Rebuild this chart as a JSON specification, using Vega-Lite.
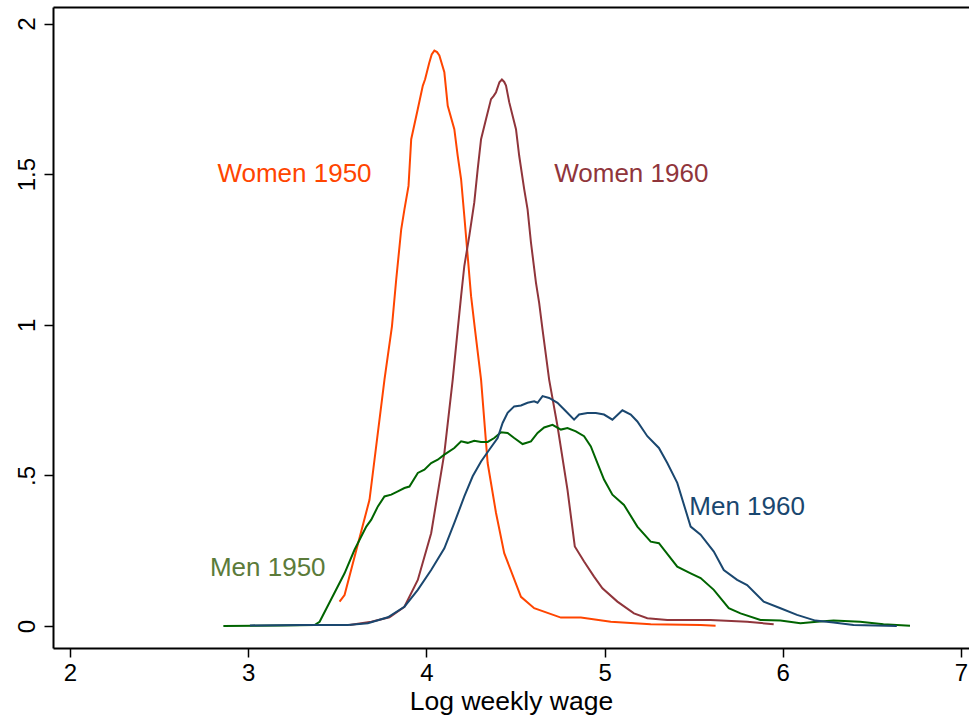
{
  "$schema": "https://vega.github.io/schema/vega-lite/v6.json",
  "width": 916,
  "height": 641,
  "autosize": {"type": "none"},
  "padding": {"left": 53, "top": 7, "right": 0, "bottom": 71},
  "background": "white",
  "config": {
    "view": {"stroke": null},
    "font": "Liberation Sans",
    "axis": {
      "grid": false,
      "domainColor": "black",
      "domainWidth": 2,
      "tickColor": "black",
      "tickWidth": 1.5,
      "tickSize": 9,
      "labelFont": "Liberation Sans",
      "labelFontSize": 24,
      "labelColor": "black",
      "titleFont": "Liberation Sans",
      "titleFontSize": 26,
      "titleFontWeight": "normal",
      "titleColor": "black"
    }
  },
  "datasets": {
    "curves": [
      {"series": "Women 1950", "x": 3.513, "y": 0.081},
      {"series": "Women 1950", "x": 3.541, "y": 0.103},
      {"series": "Women 1950", "x": 3.681, "y": 0.419},
      {"series": "Women 1950", "x": 3.765, "y": 0.818},
      {"series": "Women 1950", "x": 3.807, "y": 0.995},
      {"series": "Women 1950", "x": 3.831, "y": 1.151},
      {"series": "Women 1950", "x": 3.859, "y": 1.317},
      {"series": "Women 1950", "x": 3.877, "y": 1.383},
      {"series": "Women 1950", "x": 3.9, "y": 1.461},
      {"series": "Women 1950", "x": 3.915, "y": 1.616},
      {"series": "Women 1950", "x": 3.952, "y": 1.716},
      {"series": "Women 1950", "x": 3.98, "y": 1.793},
      {"series": "Women 1950", "x": 3.993, "y": 1.815},
      {"series": "Women 1950", "x": 4.016, "y": 1.869},
      {"series": "Women 1950", "x": 4.03, "y": 1.897},
      {"series": "Women 1950", "x": 4.045, "y": 1.91},
      {"series": "Women 1950", "x": 4.06, "y": 1.905},
      {"series": "Women 1950", "x": 4.073, "y": 1.894},
      {"series": "Women 1950", "x": 4.101, "y": 1.838},
      {"series": "Women 1950", "x": 4.12, "y": 1.727},
      {"series": "Women 1950", "x": 4.157, "y": 1.649},
      {"series": "Women 1950", "x": 4.176, "y": 1.561},
      {"series": "Women 1950", "x": 4.195, "y": 1.483},
      {"series": "Women 1950", "x": 4.213, "y": 1.361},
      {"series": "Women 1950", "x": 4.232, "y": 1.228},
      {"series": "Women 1950", "x": 4.251, "y": 1.095},
      {"series": "Women 1950", "x": 4.273, "y": 0.984},
      {"series": "Women 1950", "x": 4.307, "y": 0.818},
      {"series": "Women 1950", "x": 4.344, "y": 0.541},
      {"series": "Women 1950", "x": 4.391, "y": 0.375},
      {"series": "Women 1950", "x": 4.437, "y": 0.242},
      {"series": "Women 1950", "x": 4.531, "y": 0.097},
      {"series": "Women 1950", "x": 4.605, "y": 0.059},
      {"series": "Women 1950", "x": 4.755, "y": 0.028},
      {"series": "Women 1950", "x": 4.867, "y": 0.028},
      {"series": "Women 1950", "x": 5.035, "y": 0.014},
      {"series": "Women 1950", "x": 5.259, "y": 0.006},
      {"series": "Women 1950", "x": 5.539, "y": 0.003},
      {"series": "Women 1950", "x": 5.623, "y": 0.001},

      {"series": "Women 1960", "x": 3.569, "y": 0.003},
      {"series": "Women 1960", "x": 3.691, "y": 0.014},
      {"series": "Women 1960", "x": 3.793, "y": 0.029},
      {"series": "Women 1960", "x": 3.877, "y": 0.064},
      {"series": "Women 1960", "x": 3.952, "y": 0.153},
      {"series": "Women 1960", "x": 4.027, "y": 0.308},
      {"series": "Women 1960", "x": 4.101, "y": 0.574},
      {"series": "Women 1960", "x": 4.148, "y": 0.818},
      {"series": "Women 1960", "x": 4.176, "y": 0.984},
      {"series": "Women 1960", "x": 4.195, "y": 1.095},
      {"series": "Women 1960", "x": 4.213, "y": 1.195},
      {"series": "Women 1960", "x": 4.241, "y": 1.295},
      {"series": "Women 1960", "x": 4.269, "y": 1.406},
      {"series": "Women 1960", "x": 4.288, "y": 1.516},
      {"series": "Women 1960", "x": 4.307, "y": 1.616},
      {"series": "Women 1960", "x": 4.335, "y": 1.683},
      {"series": "Women 1960", "x": 4.363, "y": 1.749},
      {"series": "Women 1960", "x": 4.378, "y": 1.76},
      {"series": "Women 1960", "x": 4.391, "y": 1.772},
      {"series": "Women 1960", "x": 4.41, "y": 1.805},
      {"series": "Women 1960", "x": 4.424, "y": 1.814},
      {"series": "Women 1960", "x": 4.437, "y": 1.806},
      {"series": "Women 1960", "x": 4.447, "y": 1.794},
      {"series": "Women 1960", "x": 4.465, "y": 1.739},
      {"series": "Women 1960", "x": 4.484, "y": 1.694},
      {"series": "Women 1960", "x": 4.503, "y": 1.649},
      {"series": "Women 1960", "x": 4.521, "y": 1.561},
      {"series": "Women 1960", "x": 4.549, "y": 1.45},
      {"series": "Women 1960", "x": 4.568, "y": 1.383},
      {"series": "Women 1960", "x": 4.587, "y": 1.273},
      {"series": "Women 1960", "x": 4.615, "y": 1.14},
      {"series": "Women 1960", "x": 4.633, "y": 1.073},
      {"series": "Women 1960", "x": 4.652, "y": 0.984},
      {"series": "Women 1960", "x": 4.689, "y": 0.818},
      {"series": "Women 1960", "x": 4.736, "y": 0.663},
      {"series": "Women 1960", "x": 4.792, "y": 0.452},
      {"series": "Women 1960", "x": 4.833, "y": 0.264},
      {"series": "Women 1960", "x": 4.885, "y": 0.214},
      {"series": "Women 1960", "x": 4.941, "y": 0.164},
      {"series": "Women 1960", "x": 4.988, "y": 0.125},
      {"series": "Women 1960", "x": 5.072, "y": 0.081},
      {"series": "Women 1960", "x": 5.165, "y": 0.042},
      {"series": "Women 1960", "x": 5.24, "y": 0.026},
      {"series": "Women 1960", "x": 5.352, "y": 0.02},
      {"series": "Women 1960", "x": 5.594, "y": 0.02},
      {"series": "Women 1960", "x": 5.8, "y": 0.014},
      {"series": "Women 1960", "x": 5.949, "y": 0.006},

      {"series": "Men 1950", "x": 2.861, "y": 0.0},
      {"series": "Men 1950", "x": 3.187, "y": 0.002},
      {"series": "Men 1950", "x": 3.373, "y": 0.003},
      {"series": "Men 1950", "x": 3.401, "y": 0.014},
      {"series": "Men 1950", "x": 3.541, "y": 0.175},
      {"series": "Men 1950", "x": 3.597, "y": 0.253},
      {"series": "Men 1950", "x": 3.663, "y": 0.33},
      {"series": "Men 1950", "x": 3.691, "y": 0.353},
      {"series": "Men 1950", "x": 3.728, "y": 0.397},
      {"series": "Men 1950", "x": 3.765, "y": 0.43},
      {"series": "Men 1950", "x": 3.803, "y": 0.436},
      {"series": "Men 1950", "x": 3.84, "y": 0.447},
      {"series": "Men 1950", "x": 3.877, "y": 0.458},
      {"series": "Men 1950", "x": 3.905, "y": 0.463},
      {"series": "Men 1950", "x": 3.952, "y": 0.508},
      {"series": "Men 1950", "x": 3.989, "y": 0.519},
      {"series": "Men 1950", "x": 4.027, "y": 0.541},
      {"series": "Men 1950", "x": 4.064, "y": 0.552},
      {"series": "Men 1950", "x": 4.101, "y": 0.569},
      {"series": "Men 1950", "x": 4.157, "y": 0.591},
      {"series": "Men 1950", "x": 4.195, "y": 0.613},
      {"series": "Men 1950", "x": 4.232, "y": 0.608},
      {"series": "Men 1950", "x": 4.269, "y": 0.615},
      {"series": "Men 1950", "x": 4.307, "y": 0.611},
      {"series": "Men 1950", "x": 4.344, "y": 0.611},
      {"series": "Men 1950", "x": 4.381, "y": 0.624},
      {"series": "Men 1950", "x": 4.419, "y": 0.643},
      {"series": "Men 1950", "x": 4.456, "y": 0.641},
      {"series": "Men 1950", "x": 4.493, "y": 0.624},
      {"series": "Men 1950", "x": 4.54, "y": 0.604},
      {"series": "Men 1950", "x": 4.587, "y": 0.613},
      {"series": "Men 1950", "x": 4.624, "y": 0.641},
      {"series": "Men 1950", "x": 4.661, "y": 0.659},
      {"series": "Men 1950", "x": 4.708, "y": 0.668},
      {"series": "Men 1950", "x": 4.755, "y": 0.652},
      {"series": "Men 1950", "x": 4.792, "y": 0.657},
      {"series": "Men 1950", "x": 4.839, "y": 0.646},
      {"series": "Men 1950", "x": 4.885, "y": 0.63},
      {"series": "Men 1950", "x": 4.923, "y": 0.596},
      {"series": "Men 1950", "x": 4.96, "y": 0.541},
      {"series": "Men 1950", "x": 4.997, "y": 0.486},
      {"series": "Men 1950", "x": 5.044, "y": 0.436},
      {"series": "Men 1950", "x": 5.109, "y": 0.402},
      {"series": "Men 1950", "x": 5.184, "y": 0.33},
      {"series": "Men 1950", "x": 5.259, "y": 0.28},
      {"series": "Men 1950", "x": 5.305, "y": 0.275},
      {"series": "Men 1950", "x": 5.408, "y": 0.197},
      {"series": "Men 1950", "x": 5.483, "y": 0.175},
      {"series": "Men 1950", "x": 5.539, "y": 0.159},
      {"series": "Men 1950", "x": 5.613, "y": 0.12},
      {"series": "Men 1950", "x": 5.697, "y": 0.059},
      {"series": "Men 1950", "x": 5.763, "y": 0.042},
      {"series": "Men 1950", "x": 5.875, "y": 0.02},
      {"series": "Men 1950", "x": 5.987, "y": 0.018},
      {"series": "Men 1950", "x": 6.099, "y": 0.009},
      {"series": "Men 1950", "x": 6.192, "y": 0.014},
      {"series": "Men 1950", "x": 6.285, "y": 0.018},
      {"series": "Men 1950", "x": 6.434, "y": 0.014},
      {"series": "Men 1950", "x": 6.565, "y": 0.006},
      {"series": "Men 1950", "x": 6.714, "y": 0.001},

      {"series": "Men 1960", "x": 3.01, "y": 0.002},
      {"series": "Men 1960", "x": 3.299, "y": 0.003},
      {"series": "Men 1960", "x": 3.56, "y": 0.003},
      {"series": "Men 1960", "x": 3.672, "y": 0.009},
      {"series": "Men 1960", "x": 3.784, "y": 0.029},
      {"series": "Men 1960", "x": 3.877, "y": 0.064},
      {"series": "Men 1960", "x": 3.952, "y": 0.12},
      {"series": "Men 1960", "x": 4.027, "y": 0.186},
      {"series": "Men 1960", "x": 4.101, "y": 0.258},
      {"series": "Men 1960", "x": 4.157, "y": 0.342},
      {"series": "Men 1960", "x": 4.213, "y": 0.43},
      {"series": "Men 1960", "x": 4.26, "y": 0.497},
      {"series": "Men 1960", "x": 4.307, "y": 0.546},
      {"series": "Men 1960", "x": 4.353, "y": 0.585},
      {"series": "Men 1960", "x": 4.4, "y": 0.624},
      {"series": "Men 1960", "x": 4.428, "y": 0.674},
      {"series": "Men 1960", "x": 4.456, "y": 0.708},
      {"series": "Men 1960", "x": 4.493, "y": 0.729},
      {"series": "Men 1960", "x": 4.531, "y": 0.732},
      {"series": "Men 1960", "x": 4.568, "y": 0.741},
      {"series": "Men 1960", "x": 4.605, "y": 0.746},
      {"series": "Men 1960", "x": 4.624, "y": 0.741},
      {"series": "Men 1960", "x": 4.652, "y": 0.763},
      {"series": "Men 1960", "x": 4.689, "y": 0.757},
      {"series": "Men 1960", "x": 4.736, "y": 0.741},
      {"series": "Men 1960", "x": 4.783, "y": 0.713},
      {"series": "Men 1960", "x": 4.829, "y": 0.685},
      {"series": "Men 1960", "x": 4.857, "y": 0.702},
      {"series": "Men 1960", "x": 4.904, "y": 0.707},
      {"series": "Men 1960", "x": 4.951, "y": 0.707},
      {"series": "Men 1960", "x": 4.997, "y": 0.702},
      {"series": "Men 1960", "x": 5.044, "y": 0.685},
      {"series": "Men 1960", "x": 5.1, "y": 0.716},
      {"series": "Men 1960", "x": 5.147, "y": 0.702},
      {"series": "Men 1960", "x": 5.184, "y": 0.679},
      {"series": "Men 1960", "x": 5.24, "y": 0.63},
      {"series": "Men 1960", "x": 5.305, "y": 0.591},
      {"series": "Men 1960", "x": 5.352, "y": 0.541},
      {"series": "Men 1960", "x": 5.408, "y": 0.475},
      {"series": "Men 1960", "x": 5.483, "y": 0.33},
      {"series": "Men 1960", "x": 5.539, "y": 0.303},
      {"series": "Men 1960", "x": 5.613, "y": 0.247},
      {"series": "Men 1960", "x": 5.669, "y": 0.186},
      {"series": "Men 1960", "x": 5.744, "y": 0.153},
      {"series": "Men 1960", "x": 5.8, "y": 0.136},
      {"series": "Men 1960", "x": 5.893, "y": 0.081},
      {"series": "Men 1960", "x": 5.987, "y": 0.059},
      {"series": "Men 1960", "x": 6.08, "y": 0.037},
      {"series": "Men 1960", "x": 6.183, "y": 0.018},
      {"series": "Men 1960", "x": 6.285, "y": 0.012},
      {"series": "Men 1960", "x": 6.397, "y": 0.003},
      {"series": "Men 1960", "x": 6.64, "y": 0.0}
    ],
    "labels": [
      {"label": "Women 1950", "x": 3.26, "y": 1.5},
      {"label": "Women 1960", "x": 5.15, "y": 1.5},
      {"label": "Men 1960", "x": 5.8, "y": 0.396},
      {"label": "Men 1950", "x": 3.11, "y": 0.193}
    ]
  },
  "resolve": {"axis": {"x": "independent"}, "scale": {"color": "independent"}},
  "layer": [
    {
      "data": {"name": "curves"},
      "mark": {"type": "line", "strokeWidth": 2, "interpolate": "linear"},
      "encoding": {
        "x": {
          "field": "x", "type": "quantitative",
          "scale": {"domain": [1.905, 7.045], "nice": false, "zero": false},
          "axis": {"values": [2, 3, 4, 5, 6, 7], "title": "Log weekly wage", "labelPadding": 4, "titlePadding": 3, "titleFontSize": 26.5}
        },
        "y": {
          "field": "y", "type": "quantitative",
          "scale": {"domain": [-0.073, 2.0548], "nice": false, "zero": false},
          "axis": {
            "values": [0, 0.5, 1, 1.5, 2],
            "title": null,
            "format": "~g",
            "labelAngle": -90,
            "labelAlign": "center",
            "labelBaseline": "alphabetic",
            "labelPadding": 10,
            "labelExpr": "datum.value == 0.5 ? '.5' : datum.label"
          }
        },
        "color": {
          "field": "series", "type": "nominal", "legend": null,
          "scale": {"domain": ["Women 1950", "Women 1960", "Men 1950", "Men 1960"], "range": ["#FF4500", "#90353B", "#006400", "#1A476F"]}
        }
      }
    },
    {
      "data": {"name": "labels"},
      "mark": {"type": "text", "fontSize": 26, "font": "Liberation Sans", "align": "center", "baseline": "middle"},
      "encoding": {
        "x": {
          "field": "x", "type": "quantitative",
          "scale": {"domain": [1.905, 7.045], "nice": false, "zero": false},
          "axis": {"orient": "top", "labels": false, "ticks": false, "title": null, "domain": true}
        },
        "y": {"field": "y", "type": "quantitative"},
        "text": {"field": "label"},
        "color": {
          "field": "label", "type": "nominal", "legend": null,
          "scale": {"domain": ["Women 1950", "Women 1960", "Men 1950", "Men 1960"], "range": ["#FF4500", "#90353B", "#5B7B3A", "#1A476F"]}
        }
      }
    }
  ]
}
